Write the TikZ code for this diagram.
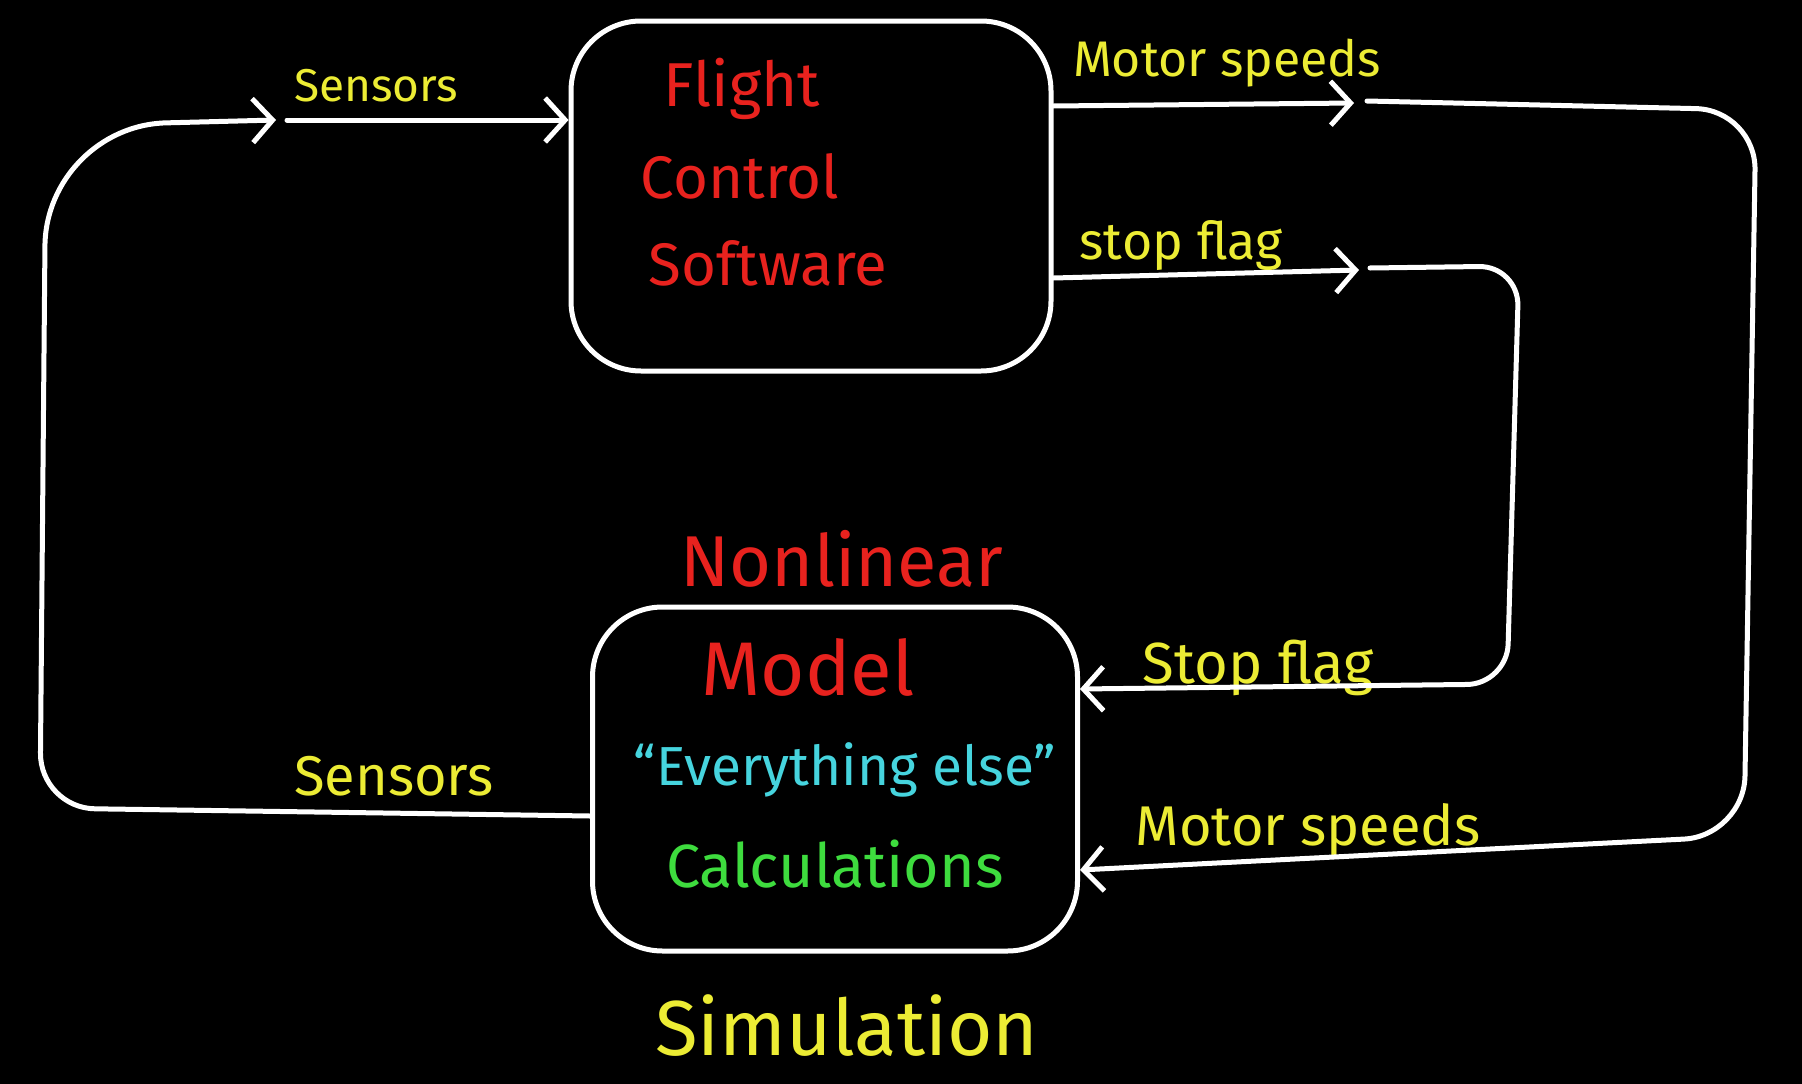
\documentclass[tikz,border=0pt]{standalone}
\usepackage{fontspec}
\setmainfont{Fira Sans}
\usetikzlibrary{arrows.meta}
\definecolor{hred}{RGB}{232,34,30}
\definecolor{hcyan}{RGB}{70,212,222}
\definecolor{hgreen}{RGB}{62,220,62}
\definecolor{hyellow}{RGB}{236,236,52}
\tikzset{
  wire/.style={draw=white, line width=5pt, line cap=round, line join=round},
  arr/.style={-{Straight Barb[length=20pt,width=44pt]}},
  blk/.style={draw=white, line width=5pt, rounded corners=70pt, inner sep=0pt},
  lbl/.style={text=hyellow, anchor=base, inner sep=0pt},
  redtxt/.style={text=hred, anchor=base, inner sep=0pt},
}
\newcommand{\fs}[1]{\fontsize{#1}{#1}\selectfont}
\begin{document}
\begin{tikzpicture}[x=1pt,y=-1pt]
\fill[black] (0,0) rectangle (1802,1084);
\useasboundingbox (0,0) rectangle (1802,1084);

% boxes
\node[blk, minimum width=480pt, minimum height=350pt] (fcs) at (811,196) {};
\node[blk, minimum width=485pt, minimum height=344pt] (sim) at (835,779) {};

% box texts
\node[redtxt, font=\fs{62}] (t1) at (742,106) {Flight};
\node[redtxt, font=\fs{60}] (t2) at (740,198) {Control};
\node[redtxt, font=\fs{60}] (t3) at (768,285) {Software};
\node[redtxt, font=\fs{72}] (t4) at (842,586) {Nonlinear};
\node[redtxt, font=\fs{76}] (t5) at (808,695) {Model};
\node[anchor=base, inner sep=0pt, text=hcyan, font=\fs{55}] (t6) at (845,785) {“Everything else”};
\node[anchor=base, inner sep=0pt, text=hgreen, font=\fs{61}] (t7) at (835,887) {Calculations};
\node[lbl, font=\fs{78}] (t8) at (847,1055) {Simulation};

% labels
\node[lbl, font=\fs{46}] (l1) at (376,101) {Sensors};
\node[lbl, font=\fs{50}] (l2) at (1227,76) {Motor speeds};
\node[lbl, font=\fs{52}] (l3) at (1181,259) {stop flag};
\node[lbl, font=\fs{56}] (l4) at (394,795) {Sensors};
\node[lbl, font=\fs{58}] (l5) at (1258,683) {Stop flag};
\node[lbl, font=\fs{56}] (l6) at (1308,845) {Motor speeds};

% helper coordinates
\coordinate (sA) at (276,120);
\coordinate (sB) at (287,120);
\coordinate (mA) at (1354,103);
\coordinate (mB) at (1367,101);
\coordinate (fA) at (1359,270);
\coordinate (fB) at (1370,268);

% sensors loop
\draw[wire, arr] (sim.west |- 0,816) [rounded corners=55pt] -- (40,808) [rounded corners=120pt] -- (46,126) -- (sA);
\draw[wire, arr] (sB) -- (fcs.west |- sB);

% motor speeds
\draw[wire, arr] (fcs.east |- 0,106) -- (mA);
\draw[wire, arr] (mB) [rounded corners=60pt] -- (1756,110) -- (1744,836) -- (sim.east |- 0,870);

% stop flag
\draw[wire, arr] (fcs.east |- 0,278) -- (fA);
\draw[wire, arr] (fB) [rounded corners=40pt] -- (1519,266) -- (1507,684) -- (sim.east |- 0,689);
\end{tikzpicture}
\end{document}
